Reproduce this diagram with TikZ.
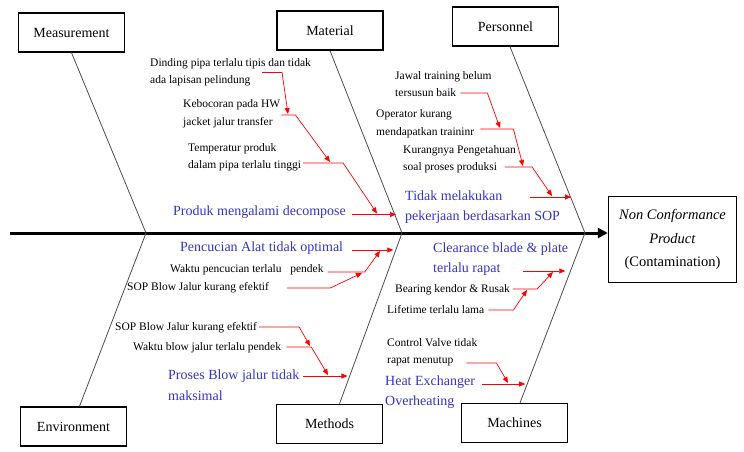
\documentclass[tikz,border=0pt]{standalone}
\usepackage{fontspec}
\setmainfont{Liberation Serif}
\usetikzlibrary{arrows.meta,positioning,calc}
\definecolor{causeblue}{RGB}{51,51,204}
\definecolor{causered}{RGB}{255,0,0}

\begin{document}
\begin{tikzpicture}[x=1pt,y=-1pt,
  catbox/.style={rectangle,draw=black,line width=1.4pt,minimum width=106pt,minimum height=39pt,font=\fontsize{14}{16}\selectfont},
  effbox/.style={rectangle,draw=black,line width=1.4pt,minimum width=128pt,minimum height=86pt,align=center,font=\fontsize{14.5}{23.5}\selectfont},
  cause/.style={anchor=west,align=left,inner sep=1pt,font=\fontsize{11.5}{17.5}\selectfont},
  maincause/.style={cause,text=causeblue,font=\fontsize{14}{20.5}\selectfont},
  bone/.style={draw=black!70,line width=0.8pt},
  spine/.style={line width=3pt,-{Triangle[length=10pt,width=10pt]}},
  redline/.style={-{Triangle[length=6pt,width=5pt]},draw=causered,line width=0.7pt}
]
  \useasboundingbox (0,0) rectangle (744,452);

  \node[catbox] (meas) at (71.5,32.5) {Measurement};
  \node[catbox] (mat) at (330,30.5) {Material};
  \node[catbox] (pers) at (505.5,26.5) {Personnel};
  \node[catbox] (env) at (73.5,426.5) {Environment};
  \node[catbox] (meth) at (329.5,424) {Methods};
  \node[catbox] (mach) at (514.5,423) {Machines};
  \node[effbox] (eff) at (672.5,239.5) {\textit{Non Conformance}\\\textit{Product}\\(Contamination)};

  \coordinate (tail) at (10,233);
  \draw[spine] (tail) -- (tail -| eff.west);

  \coordinate (j1) at (146,233);
  \coordinate (j2) at (402,233);
  \coordinate (j3) at (585,233);
  \draw[bone] (meas.south) -- (j1);
  \draw[bone] ([xshift=6pt]env.north) -- (j1);
  \draw[bone] (mat.south) -- (j2);
  \draw[bone] ([xshift=10pt]meth.north) -- (j2);
  \draw[bone] ([xshift=4.5pt]pers.south) -- (j3);
  \draw[bone] ([xshift=5.5pt]mach.north) -- (j3);

  \node[cause] (ma1) at (149,72.5) {Dinding pipa terlalu tipis dan tidak\\ada lapisan pelindung};
  \node[cause] (ma2) at (182,113.5) {Kebocoran pada HW\\jacket jalur transfer};
  \node[cause] (ma3) at (187,157.5) {Temperatur produk\\dalam pipa terlalu tinggi};
  \node[maincause] (ma4) at (172,212) {Produk mengalami decompose};

  \node[cause] (pe1) at (394,84) {Jawal training belum\\tersusun baik};
  \node[cause] (pe2) at (375,123.5) {Operator kurang\\mendapatkan traininr};
  \node[cause] (pe3) at (402,159) {Kurangnya Pengetahuan\\soal proses produksi};
  \node[maincause] (pe4) at (404,207) {Tidak melakukan\\pekerjaan berdasarkan SOP};

  \node[maincause] (mt1) at (179,248) {Pencucian Alat tidak optimal};
  \node[cause] (mt2) at (169,270) {Waktu pencucian terlalu \ \ pendek};
  \node[cause] (mt3) at (126,288) {SOP Blow Jalur kurang efektif};
  \node[cause] (mt4) at (114,328) {SOP Blow Jalur kurang efektif};
  \node[cause] (mt5) at (132,348) {Waktu blow jalur terlalu pendek};
  \node[maincause] (mt6) at (167,385) {Proses Blow jalur tidak\\maksimal};

  \node[maincause] (mc1) at (432,259) {Clearance blade \& plate\\terlalu rapat};
  \node[cause] (mc2) at (394,290) {Bearing kendor \& Rusak};
  \node[cause] (mc3) at (386,310) {Lifetime terlalu lama};
  \node[cause] (mc4) at (386,352) {Control Valve tidak\\rapat menutup};
  \node[maincause] (mc5) at (384,392) {Heat Exchanger\\Overheating};

  \coordinate (ta1) at (288,114);
  \coordinate (ta2) at (330,162);
  \coordinate (ta3) at (377,213.5);
  \coordinate (tp1) at (500,128);
  \coordinate (tp2) at (523,166);
  \coordinate (tp3) at (552,196);
  \coordinate (tm2) at (380,251);
  \coordinate (tm3) at (362,273);
  \coordinate (tm4) at (310,346);
  \coordinate (tm5) at (328,375);
  \coordinate (tc2) at (553,272);
  \coordinate (tc3) at (527,290);
  \coordinate (tc4) at (508,383);

  \draw[redline] ([shift={(-50,0)}]ma1.east) -- ++(20,0) -- (ta1);
  \draw[redline] ([shift={(0,1.5)}]ma2.east) -- ++(14,0) -- (ta2);
  \draw[redline] ([shift={(1,5.5)}]ma3.east) -- ++(40,0) -- (ta3);
  \draw[redline] ([shift={(5,2.5)}]ma4.east) -- ++(44,0);

  \draw[redline] ([shift={(-32.5,9)}]pe1.east) -- ++(27,0) -- (tp1);
  \draw[redline] ([shift={(5,5.5)}]pe2.east) -- ++(33,0) -- (tp2);
  \draw[redline] ([shift={(-12,8)}]pe3.east) -- ++(27,0) -- (tp3);
  \draw[redline] ([shift={(-31,-10)}]pe4.east) -- ++(41,0);

  \draw[redline] ([shift={(8,2)}]mt1.east) -- ++(41,0);
  \draw[redline] ([shift={(3,2)}]mt2.east) -- ++(37,0) -- (tm2);
  \draw[redline] ([shift={(17,0)}]mt3.east) -- ++(43,0) -- (tm3);
  \draw[redline] ([shift={(1,-1)}]mt4.east) -- ++(40,0) -- (tm4);
  \draw[redline] ([shift={(4,-1)}]mt5.east) -- ++(25,0) -- (tm5);
  \draw[redline] ([shift={(3,-9)}]mt6.east) -- ++(44,0);

  \draw[redline] ([shift={(-46,12)}]mc1.east) -- ++(42,0);
  \draw[redline] ([shift={(2,-1)}]mc2.east) -- ++(24,0) -- (tc2);
  \draw[redline] ([shift={(3,0)}]mc3.east) -- ++(25,0) -- (tc3);
  \draw[redline] ([shift={(-12,11)}]mc4.east) -- ++(30,0) -- (tc4);
  \draw[redline] ([shift={(6,-8)}]mc5.east) -- ++(43,0);
\end{tikzpicture}
\end{document}
